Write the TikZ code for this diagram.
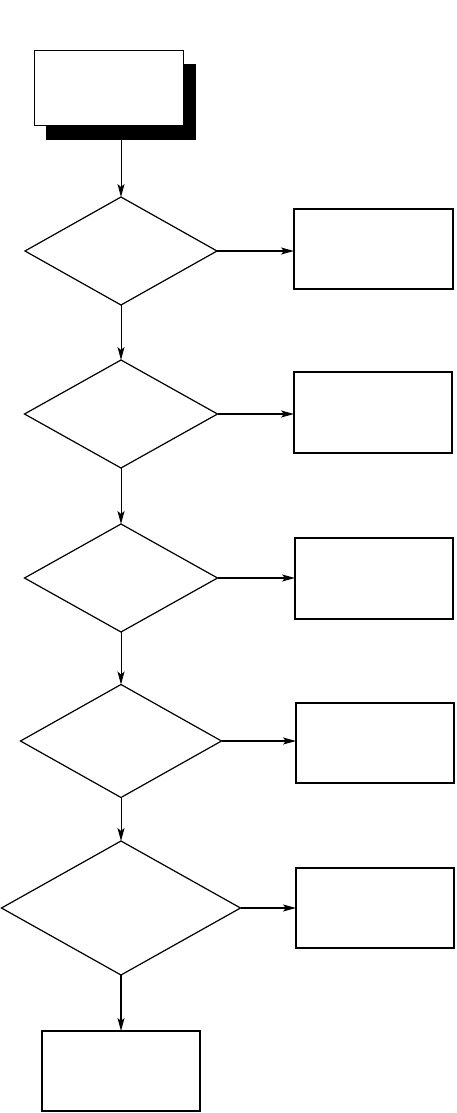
\documentclass[tikz,border=0pt]{standalone}
\usetikzlibrary{shapes.geometric,arrows.meta}
\begin{document}
\begin{tikzpicture}[x=1pt,y=-1pt,
  line width=1.2pt,
  box/.style={draw,rectangle,inner sep=0pt,outer sep=0pt,fill=white},
  dec/.style={draw,diamond,inner sep=0pt,outer sep=0pt},
  arr/.style={-{Stealth[length=13pt,width=7pt,inset=3pt]}},
  varr/.style={arr,line width=0.9pt}]
\useasboundingbox (0,0) rectangle (456,1113);
% start box with shadow
\node[box,fill=black,minimum width=149pt,minimum height=75pt] (sh) at (121,102) {};
\node[box,minimum width=149pt,minimum height=75pt] (s) at (109,88) {};
% decisions
\node[dec,minimum width=192pt,minimum height=108pt] (d1) at (121,251) {};
\node[dec,minimum width=193pt,minimum height=108pt] (d2) at (121,414) {};
\node[dec,minimum width=193pt,minimum height=108pt] (d3) at (121,578) {};
\node[dec,minimum width=201pt,minimum height=113pt] (d4) at (121,741) {};
\node[dec,minimum width=239pt,minimum height=134pt] (d5) at (121,908) {};
% side boxes
\node[box,minimum width=159pt,minimum height=80pt] (b1) at (373.5,249) {};
\node[box,minimum width=158pt,minimum height=81pt] (b2) at (373,412.5) {};
\node[box,minimum width=158pt,minimum height=81pt] (b3) at (374,578.5) {};
\node[box,minimum width=158pt,minimum height=80pt] (b4) at (375,743) {};
\node[box,minimum width=158pt,minimum height=80pt] (b5) at (375,908) {};
% final box
\node[box,minimum width=158pt,minimum height=80pt] (e) at (121,1071) {};
% connectors
\draw[varr] (sh.south) -- (d1.north);
\draw[varr] (d1.south) -- (d2.north);
\draw[varr] (d2.south) -- (d3.north);
\draw[varr] (d3.south) -- (d4.north);
\draw[varr] (d4.south) -- (d5.north);
\draw[arr,line width=1.6pt] (d5.south) -- (e.north);
\draw[arr] (d1.east) -- (d1.east -| b1.west);
\draw[arr] (d2.east) -- (d2.east -| b2.west);
\draw[arr] (d3.east) -- (d3.east -| b3.west);
\draw[arr] (d4.east) -- (d4.east -| b4.west);
\draw[arr] (d5.east) -- (d5.east -| b5.west);
\end{tikzpicture}
\end{document}
